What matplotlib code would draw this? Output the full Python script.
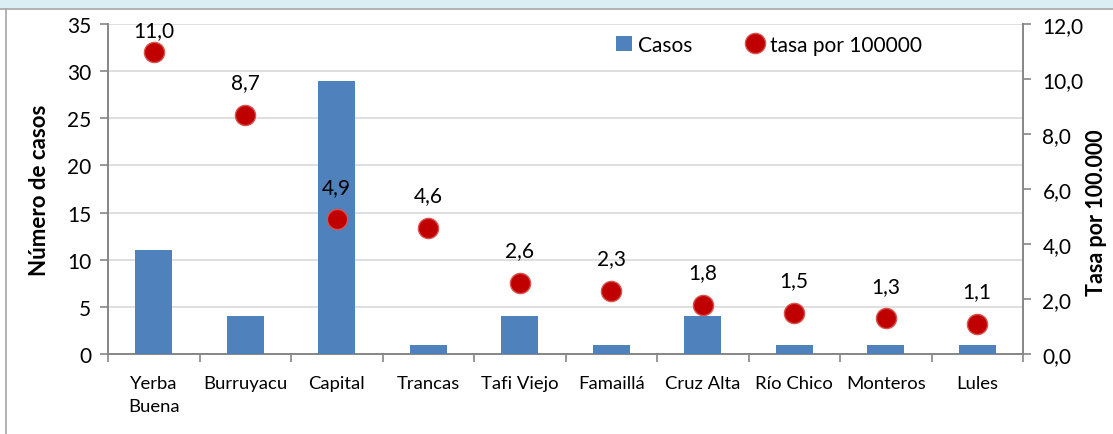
import matplotlib
matplotlib.use("Agg")
import matplotlib.pyplot as plt
from matplotlib.patches import Rectangle
from matplotlib.lines import Line2D
import numpy as np

# data
categories = ["Yerba\nBuena", "Burruyacu", "Capital", "Trancas", "Tafi Viejo",
              "Famaillá", "Cruz Alta", "Río Chico", "Monteros", "Lules"]
casos = [11, 4, 29, 1, 4, 1, 4, 1, 1, 1]
tasa = [11.0, 8.7, 4.9, 4.6, 2.6, 2.3, 1.8, 1.5, 1.3, 1.1]
left_ticks = [0, 5, 10, 15, 20, 25, 30, 35]
right_ticks = [0, 2, 4, 6, 8, 10, 12]

BAR_COLOR = "#4F81BD"
DOT_COLOR = "#C00000"
GRID_COLOR = "#D9D9D9"
AXIS_COLOR = "#868686"

plt.rcParams["font.family"] = ["Lato", "DejaVu Sans"]

fig = plt.figure(figsize=(11.13, 4.35), dpi=100)
ax = fig.add_axes([108 / 1113, 1 - 355 / 435, 915 / 1113, 330 / 435])
ax2 = ax.twinx()

# frame decorations of the original screenshot
fig.patches.append(Rectangle((0, 1 - 9 / 435), 1, 9 / 435, transform=fig.transFigure,
                             facecolor="#DBEEF4", edgecolor="none", zorder=0))
fig.lines.append(Line2D([0, 1], [1 - 9.5 / 435] * 2, transform=fig.transFigure,
                        color="#A6A6A6", lw=1.2))
fig.lines.append(Line2D([5.5 / 1113] * 2, [0, 1 - 9.5 / 435], transform=fig.transFigure,
                        color="#A6A6A6", lw=1.2))

x = np.arange(len(categories))
ax.bar(x, casos, width=0.4, color=BAR_COLOR, zorder=3, label="Casos")
ax.set_xlim(-0.5, len(categories) - 0.5)
ax.set_ylim(0, 35)
ax.set_yticks(left_ticks)
ax.set_yticklabels([str(t) for t in left_ticks], fontsize=15)
ax.yaxis.grid(True, color=GRID_COLOR, lw=1.2, zorder=0)
ax.set_axisbelow(True)

ax.set_xticks(x)
ax.set_xticklabels(categories, fontsize=13.3, linespacing=1.55)
ax.set_xticks(np.arange(len(categories) + 1) - 0.5, minor=True)
ax.tick_params(axis="x", which="major", length=0, pad=15)
ax.tick_params(axis="x", which="minor", length=6, color=AXIS_COLOR, width=1.2)
ax.tick_params(axis="y", length=6, color=AXIS_COLOR, width=1.2, pad=6)

for s in ["top", "right"]:
    ax.spines[s].set_visible(False)
for s in ["left", "bottom"]:
    ax.spines[s].set_color(AXIS_COLOR)
    ax.spines[s].set_linewidth(1.4)

ax.set_ylabel("Número de casos", fontsize=16, fontweight="bold", labelpad=12)

# rate per 100000 on the secondary axis
ax2.plot(x, tasa, "o", ms=14.5, mfc=DOT_COLOR, mec="#D9534F", mew=1.0,
         zorder=4, label="tasa por 100000")
for xi, v in zip(x, tasa):
    txt = f"{v:.1f}".replace(".", ",")
    if v > 10.5:
        # label would leave the plot area: keep it at the top edge
        ax2.annotate(txt, (xi, 12), xytext=(0, 3), textcoords="offset points",
                     ha="center", va="top", fontsize=15)
    else:
        ax2.annotate(txt, (xi, v), xytext=(0, 16), textcoords="offset points",
                     ha="center", va="bottom", fontsize=15)
ax2.set_ylim(0, 12)
ax2.set_yticks(right_ticks)
ax2.set_yticklabels([f"{t:.1f}".replace(".", ",") for t in right_ticks], fontsize=15)
ax2.tick_params(axis="y", length=6, color=AXIS_COLOR, width=1.2, pad=8)
for s in ["top", "left", "bottom"]:
    ax2.spines[s].set_visible(False)
ax2.spines["right"].set_color(AXIS_COLOR)
ax2.spines["right"].set_linewidth(1.4)
ax2.set_ylabel("Tasa por 100.000", fontsize=15.5, fontweight="bold", labelpad=2)
ax2.yaxis.label.set_y(0.43)

h1, l1 = ax.get_legend_handles_labels()
h2, l2 = ax2.get_legend_handles_labels()
ax2.legend(h1 + h2, l1 + l2, ncol=2, loc="upper right", bbox_to_anchor=(0.91, 1.025),
           frameon=False, fontsize=15, handlelength=0.8, handletextpad=0.3,
           columnspacing=2.6)

fig.savefig("out.png", dpi=100)
